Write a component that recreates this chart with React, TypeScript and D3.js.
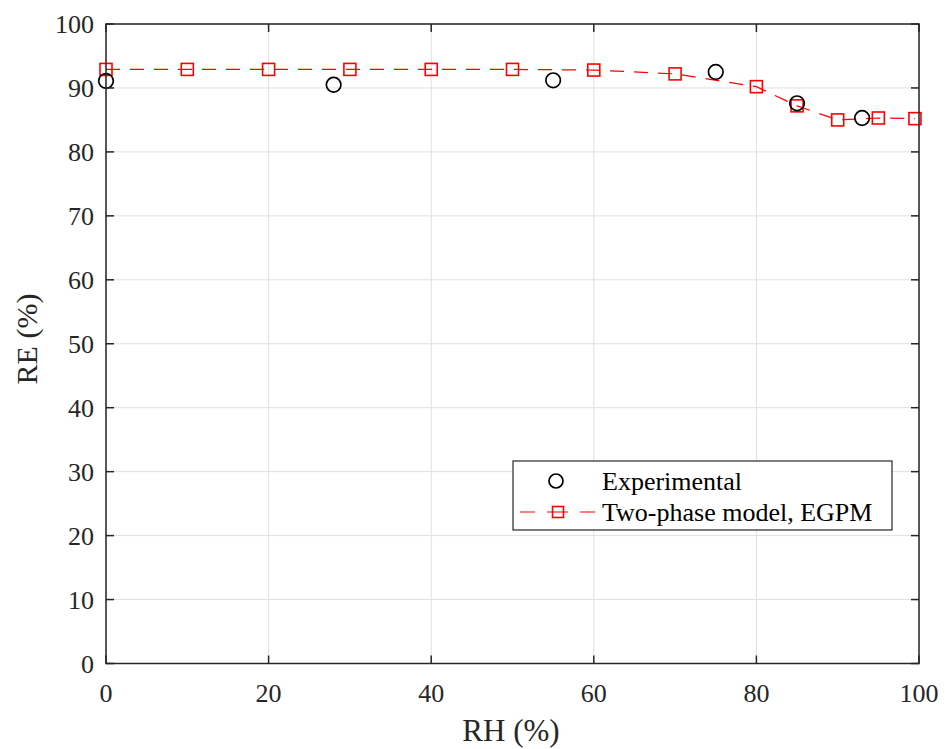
import React from "react";
import * as d3 from "d3";

const expRH = [0, 28, 55, 75, 85, 93];
const expRE = [91.1, 90.5, 91.2, 92.5, 87.6, 85.3];

const modelRH = [0, 10, 20, 30, 40, 50, 60, 70, 80, 85, 90, 95, 99.5];
const modelRE = [92.9, 92.9, 92.9, 92.9, 92.9, 92.9, 92.8, 92.2, 90.2, 87.2, 85.0, 85.3, 85.2];

const xTicks = [0, 20, 40, 60, 80, 100];
const yTicks = [0, 10, 20, 30, 40, 50, 60, 70, 80, 90, 100];

const legendLabels = ["Experimental", "Two-phase model, EGPM"];

const W = 945;
const H = 749;
const L = 106, R = 919, T = 24, B = 663.5;
const FONT = "'Liberation Serif', 'Times New Roman', serif";
const AX = "#262626";
const RED = "#ff0000";

export default function App() {
  const x = d3.scaleLinear().domain([0, 100]).range([L, R]);
  const y = d3.scaleLinear().domain([0, 100]).range([B, T]);
  const line = d3
    .line<number>()
    .x((_, i) => x(modelRH[i]))
    .y((d) => y(d))
    .curve(d3.curveLinear);

  const tickLen = 8;
  const sq = 12;

  return (
    <svg
      width={W}
      height={H}
      style={{ position: "absolute", left: 0, top: 0, background: "#fff" }}
      fontFamily={FONT}
    >
      <rect x={0} y={0} width={W} height={H} fill="#fff" />
      {/* grid */}
      {xTicks.map((t) => (
        <line key={"gx" + t} x1={x(t)} x2={x(t)} y1={T} y2={B} stroke="#e0e0e0" strokeWidth={1} />
      ))}
      {yTicks.map((t) => (
        <line key={"gy" + t} x1={L} x2={R} y1={y(t)} y2={y(t)} stroke="#e0e0e0" strokeWidth={1} />
      ))}

      {/* model line */}
      <path d={line(modelRE) || ""} fill="none" stroke={RED} strokeWidth={1.2} strokeDasharray="14,10" />
      {modelRE.map((v, i) => (
        <rect
          key={"m" + i}
          x={x(modelRH[i]) - sq / 2}
          y={y(v) - sq / 2}
          width={sq}
          height={sq}
          fill="none"
          stroke={RED}
          strokeWidth={1.6}
        />
      ))}
      {/* experimental */}
      {expRE.map((v, i) => (
        <circle key={"e" + i} cx={x(expRH[i])} cy={y(v)} r={7.3} fill="none" stroke="#000" strokeWidth={1.7} />
      ))}

      {/* axes box */}
      <rect x={L} y={T} width={R - L} height={B - T} fill="none" stroke={AX} strokeWidth={1.5} />
      {xTicks.map((t) => (
        <g key={"tx" + t}>
          <line x1={x(t)} x2={x(t)} y1={B} y2={B - tickLen} stroke={AX} strokeWidth={1.5} />
          <line x1={x(t)} x2={x(t)} y1={T} y2={T + tickLen} stroke={AX} strokeWidth={1.5} />
          <text x={x(t)} y={701.5} textAnchor="middle" fontSize={26} fill={AX}>
            {t}
          </text>
        </g>
      ))}
      {yTicks.map((t) => (
        <g key={"ty" + t}>
          <line x1={L} x2={L + tickLen} y1={y(t)} y2={y(t)} stroke={AX} strokeWidth={1.5} />
          <line x1={R} x2={R - tickLen} y1={y(t)} y2={y(t)} stroke={AX} strokeWidth={1.5} />
          <text x={94} y={y(t)} dy="0.35em" textAnchor="end" fontSize={26} fill={AX}>
            {t}
          </text>
        </g>
      ))}

      {/* axis labels */}
      <text x={511} y={741} textAnchor="middle" fontSize={31} fill={AX}>
        RH (%)
      </text>
      <text
        transform={`translate(37, 339) rotate(-90)`}
        textAnchor="middle"
        fontSize={30}
        fill={AX}
      >
        RE (%)
      </text>

      {/* legend */}
      <g>
        <rect x={513} y={461} width={379} height={69} fill="#fff" stroke={AX} strokeWidth={1.2} />
        <circle cx={556} cy={481} r={7} fill="none" stroke="#000" strokeWidth={1.7} />
        <text x={602} y={481} dy="0.35em" fontSize={26} fill="#000">
          {legendLabels[0]}
        </text>
        <line x1={520} x2={595} y1={512} y2={512} stroke={RED} strokeWidth={1.2} strokeDasharray="15,12,21,12,15" />
        <rect x={558 - 5.5} y={512 - 5.5} width={11} height={11} fill="none" stroke={RED} strokeWidth={1.6} />
        <text x={602} y={512} dy="0.35em" fontSize={26} fill="#000">
          {legendLabels[1]}
        </text>
      </g>
    </svg>
  );
}
